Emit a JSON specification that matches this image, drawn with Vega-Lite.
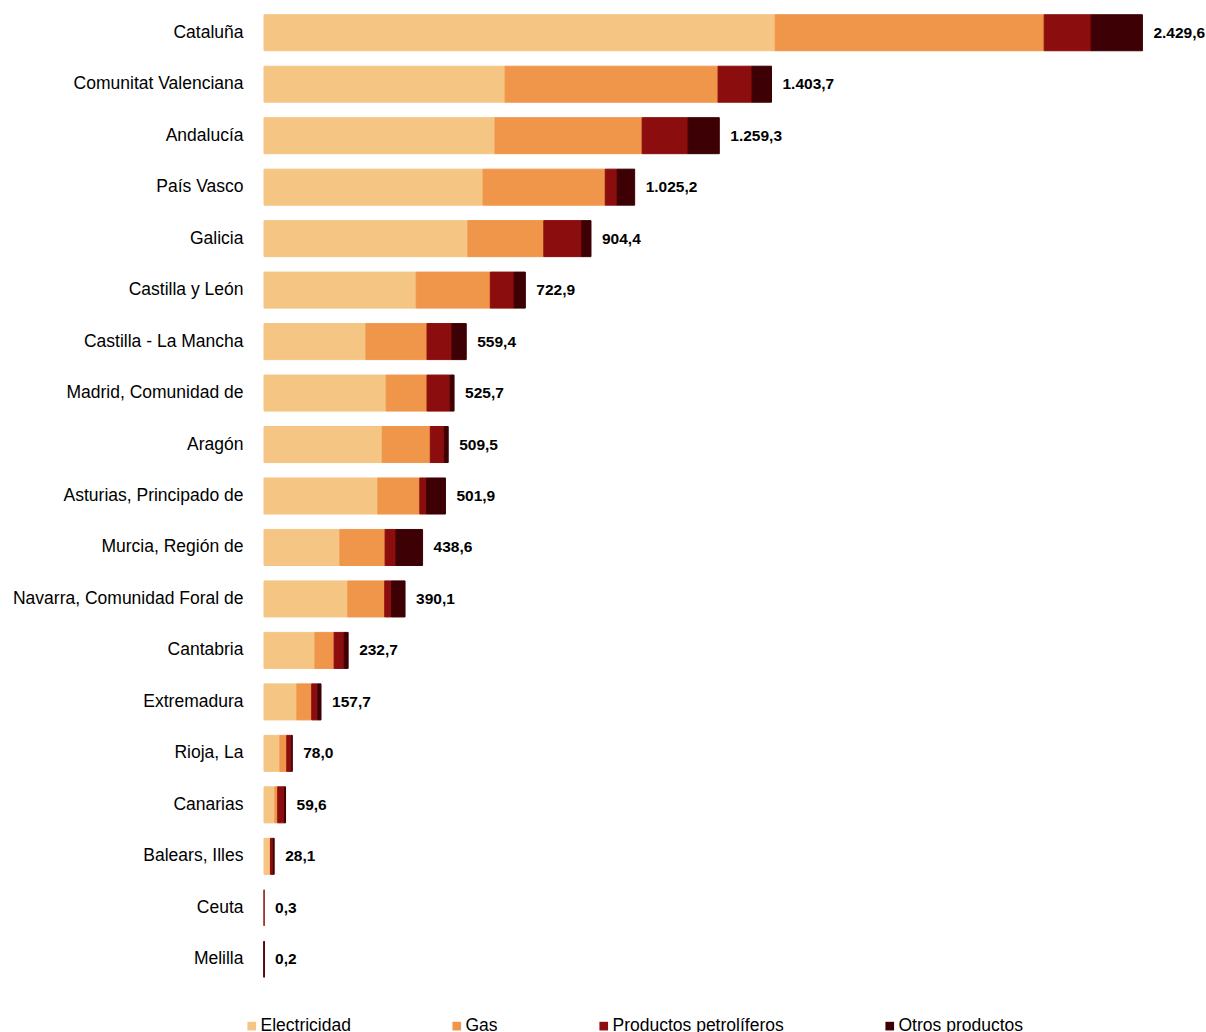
{
  "$schema": "https://vega.github.io/schema/vega-lite/v6.json",
  "width": 940,
  "height": 978,
  "autosize": {"type": "none"},
  "padding": {"left": 264, "top": 7, "right": 2, "bottom": 47},
  "config": {
    "view": {"stroke": null},
    "font": "Liberation Sans",
    "locale": {"number": {"decimal": ",", "thousands": ".", "grouping": [3], "currency": ["", " €"]}}
  },
  "data": {
    "values": [
      {"region": "Cataluña", "tipo": "Electricidad", "valor": 1414.0},
      {"region": "Cataluña", "tipo": "Gas", "valor": 744.0},
      {"region": "Cataluña", "tipo": "Productos petrolíferos", "valor": 130.0},
      {"region": "Cataluña", "tipo": "Otros productos", "valor": 141.6},
      {"region": "Comunitat Valenciana", "tipo": "Electricidad", "valor": 667},
      {"region": "Comunitat Valenciana", "tipo": "Gas", "valor": 589},
      {"region": "Comunitat Valenciana", "tipo": "Productos petrolíferos", "valor": 94},
      {"region": "Comunitat Valenciana", "tipo": "Otros productos", "valor": 53.7},
      {"region": "Andalucía", "tipo": "Electricidad", "valor": 639},
      {"region": "Andalucía", "tipo": "Gas", "valor": 407},
      {"region": "Andalucía", "tipo": "Productos petrolíferos", "valor": 127},
      {"region": "Andalucía", "tipo": "Otros productos", "valor": 86.3},
      {"region": "País Vasco", "tipo": "Electricidad", "valor": 606},
      {"region": "País Vasco", "tipo": "Gas", "valor": 338},
      {"region": "País Vasco", "tipo": "Productos petrolíferos", "valor": 33},
      {"region": "País Vasco", "tipo": "Otros productos", "valor": 48.2},
      {"region": "Galicia", "tipo": "Electricidad", "valor": 564},
      {"region": "Galicia", "tipo": "Gas", "valor": 210},
      {"region": "Galicia", "tipo": "Productos petrolíferos", "valor": 105},
      {"region": "Galicia", "tipo": "Otros productos", "valor": 25.4},
      {"region": "Castilla y León", "tipo": "Electricidad", "valor": 421},
      {"region": "Castilla y León", "tipo": "Gas", "valor": 205},
      {"region": "Castilla y León", "tipo": "Productos petrolíferos", "valor": 66},
      {"region": "Castilla y León", "tipo": "Otros productos", "valor": 30.9},
      {"region": "Castilla - La Mancha", "tipo": "Electricidad", "valor": 282},
      {"region": "Castilla - La Mancha", "tipo": "Gas", "valor": 169},
      {"region": "Castilla - La Mancha", "tipo": "Productos petrolíferos", "valor": 69},
      {"region": "Castilla - La Mancha", "tipo": "Otros productos", "valor": 39.4},
      {"region": "Madrid, Comunidad de", "tipo": "Electricidad", "valor": 338},
      {"region": "Madrid, Comunidad de", "tipo": "Gas", "valor": 113},
      {"region": "Madrid, Comunidad de", "tipo": "Productos petrolíferos", "valor": 64},
      {"region": "Madrid, Comunidad de", "tipo": "Otros productos", "valor": 10.7},
      {"region": "Aragón", "tipo": "Electricidad", "valor": 327},
      {"region": "Aragón", "tipo": "Gas", "valor": 133},
      {"region": "Aragón", "tipo": "Productos petrolíferos", "valor": 39},
      {"region": "Aragón", "tipo": "Otros productos", "valor": 10.5},
      {"region": "Asturias, Principado de", "tipo": "Electricidad", "valor": 315},
      {"region": "Asturias, Principado de", "tipo": "Gas", "valor": 116},
      {"region": "Asturias, Principado de", "tipo": "Productos petrolíferos", "valor": 19},
      {"region": "Asturias, Principado de", "tipo": "Otros productos", "valor": 51.9},
      {"region": "Murcia, Región de", "tipo": "Electricidad", "valor": 210},
      {"region": "Murcia, Región de", "tipo": "Gas", "valor": 125},
      {"region": "Murcia, Región de", "tipo": "Productos petrolíferos", "valor": 30},
      {"region": "Murcia, Región de", "tipo": "Otros productos", "valor": 73.6},
      {"region": "Navarra, Comunidad Foral de", "tipo": "Electricidad", "valor": 232},
      {"region": "Navarra, Comunidad Foral de", "tipo": "Gas", "valor": 102},
      {"region": "Navarra, Comunidad Foral de", "tipo": "Productos petrolíferos", "valor": 19},
      {"region": "Navarra, Comunidad Foral de", "tipo": "Otros productos", "valor": 37.1},
      {"region": "Cantabria", "tipo": "Electricidad", "valor": 141},
      {"region": "Cantabria", "tipo": "Gas", "valor": 53},
      {"region": "Cantabria", "tipo": "Productos petrolíferos", "valor": 28},
      {"region": "Cantabria", "tipo": "Otros productos", "valor": 10.7},
      {"region": "Extremadura", "tipo": "Electricidad", "valor": 91},
      {"region": "Extremadura", "tipo": "Gas", "valor": 41},
      {"region": "Extremadura", "tipo": "Productos petrolíferos", "valor": 17},
      {"region": "Extremadura", "tipo": "Otros productos", "valor": 8.7},
      {"region": "Rioja, La", "tipo": "Electricidad", "valor": 44},
      {"region": "Rioja, La", "tipo": "Gas", "valor": 19},
      {"region": "Rioja, La", "tipo": "Productos petrolíferos", "valor": 14},
      {"region": "Rioja, La", "tipo": "Otros productos", "valor": 1.0},
      {"region": "Canarias", "tipo": "Electricidad", "valor": 30},
      {"region": "Canarias", "tipo": "Gas", "valor": 8},
      {"region": "Canarias", "tipo": "Productos petrolíferos", "valor": 19},
      {"region": "Canarias", "tipo": "Otros productos", "valor": 2.6},
      {"region": "Balears, Illes", "tipo": "Electricidad", "valor": 17},
      {"region": "Balears, Illes", "tipo": "Gas", "valor": 1},
      {"region": "Balears, Illes", "tipo": "Productos petrolíferos", "valor": 8},
      {"region": "Balears, Illes", "tipo": "Otros productos", "valor": 2.1},
      {"region": "Ceuta", "tipo": "Productos petrolíferos", "valor": 0.3},
      {"region": "Melilla", "tipo": "Productos petrolíferos", "valor": 0.1},
      {"region": "Melilla", "tipo": "Otros productos", "valor": 0.1}
    ]
  },
  "encoding": {
    "y": {
      "field": "region",
      "type": "nominal",
      "sort": ["Cataluña", "Comunitat Valenciana", "Andalucía", "País Vasco", "Galicia", "Castilla y León", "Castilla - La Mancha", "Madrid, Comunidad de", "Aragón", "Asturias, Principado de", "Murcia, Región de", "Navarra, Comunidad Foral de", "Cantabria", "Extremadura", "Rioja, La", "Canarias", "Balears, Illes", "Ceuta", "Melilla"],
      "scale": {"paddingInner": 0.3, "paddingOuter": 0.15},
      "axis": {"title": null, "ticks": false, "domain": false, "labelFontSize": 17.5, "labelColor": "#000000", "labelPadding": 21, "labelLimit": 400, "labelFont": "Liberation Sans"}
    }
  },
  "layer": [
    {
      "transform": [
        {"calculate": "indexof(['Electricidad','Gas','Productos petrolíferos','Otros productos'], datum.tipo)", "as": "orden"}
      ],
      "mark": {"type": "bar", "strokeWidth": 1},
      "encoding": {
        "x": {"field": "valor", "type": "quantitative", "stack": "zero", "scale": {"domain": [0, 2600], "nice": false}, "axis": null},
        "order": {"field": "orden", "type": "quantitative"},
        "color": {
          "field": "tipo",
          "type": "nominal",
          "scale": {"domain": ["Electricidad", "Gas", "Productos petrolíferos", "Otros productos"], "range": ["#F5C584", "#EF964B", "#8B0D0D", "#3D0004"]},
          "legend": {
            "title": null,
            "orient": "none",
            "legendX": -21,
            "legendY": 1010,
            "direction": "horizontal",
            "columnPadding": 97,
            "labelOffset": 0,
            "symbolType": "square",
            "symbolSize": 75,
            "symbolStrokeWidth": 0,
            "labelFontSize": 17.5,
            "labelColor": "#000000",
            "labelFont": "Liberation Sans",
            "labelLimit": 400,
            "padding": 0
          }
        },
        "stroke": {
          "field": "tipo",
          "type": "nominal",
          "scale": {"domain": ["Electricidad", "Gas", "Productos petrolíferos", "Otros productos"], "range": ["#F5C584", "#EF964B", "#8B0D0D", "#3D0004"]},
          "legend": null
        }
      }
    },
    {
      "mark": {"type": "text", "align": "left", "baseline": "middle", "dx": 11, "fontWeight": "bold", "fontSize": 15.5, "font": "Liberation Sans", "color": "#000000"},
      "encoding": {
        "x": {"aggregate": "sum", "field": "valor", "type": "quantitative"},
        "text": {"aggregate": "sum", "field": "valor", "type": "quantitative", "format": ",.1f"}
      }
    }
  ]
}
